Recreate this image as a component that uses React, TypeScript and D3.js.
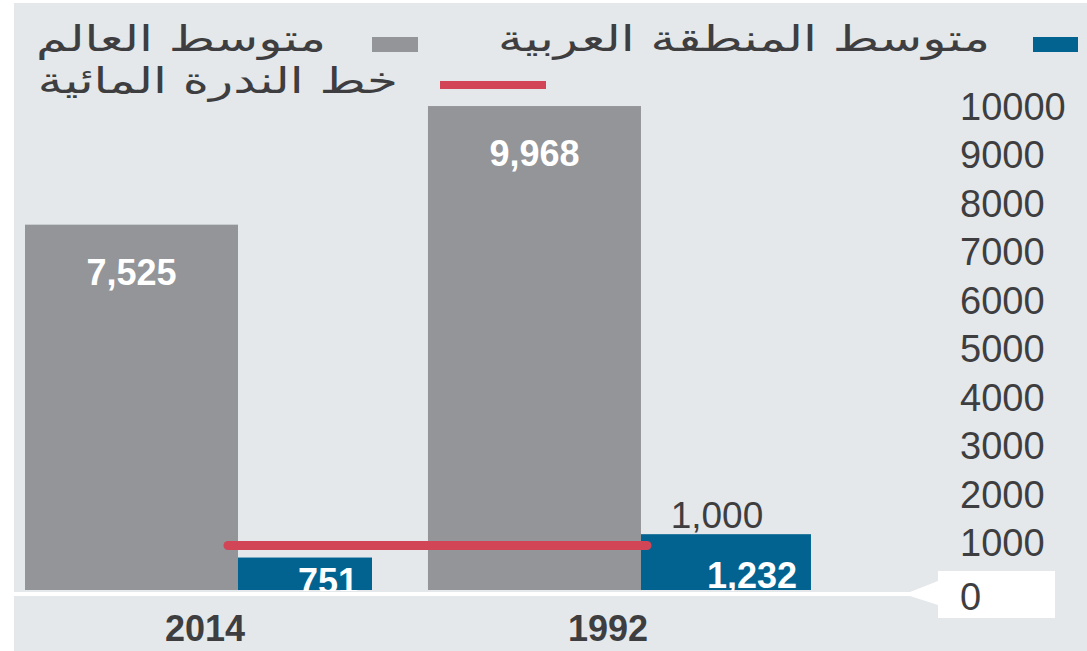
import * as d3 from 'd3';

const categories = ['2014', '1992'];
const worldAvg = [7525, 9968];
const arabAvg = [751, 1232];
const scarcityLine = 1000;
const yTicks = [0, 1000, 2000, 3000, 4000, 5000, 6000, 7000, 8000, 9000, 10000];
const legendLabels = ['متوسط المنطقة العربية', 'متوسط العالم', 'خط الندرة المائية'];

const W = 1087;
const H = 651;
const BG = '#e4e8eb';
const GRAY = '#939598';
const BLUE = '#036390';
const RED = '#d24557';
const TEXT = '#3e3e40';
const grayWidth = 213;
const blueWidth = [134, 170];

const fmt = d3.format(',');

// arabic legend text, stretched wide like the original print
const Arabic = ({ x, y, label }: { x: number; y: number; label: string }) => (
  <text transform={`translate(${x},${y}) scale(1.39,1)`} textAnchor="end" fontSize={36} fill={TEXT}
    fontFamily="'DejaVu Sans', sans-serif">{label}</text>
);

export default function App() {
  const x = d3.scaleBand<string>().domain(categories).range([25, 812]).paddingInner(0.047).paddingOuter(0);
  const y = d3.scaleLinear().domain([0, 10000]).range([590, 104.5]);
  const base = y(0);
  const lineY = y(scarcityLine) + 4;
  const lineX0 = (x('2014') as number) + grayWidth - 10;
  const lineX1 = (x('1992') as number) + grayWidth + 6;

  return (
    <svg width={W} height={H} style={{ position: 'absolute', left: 0, top: 0 }}
      fontFamily="'Liberation Sans', Arial, sans-serif">
      <rect x={0} y={0} width={W} height={H} fill="#fff" />
      <rect x={14} y={3} width={W - 14} height={H - 3} fill={BG} />

      {/* legend */}
      <rect x={1033} y={37} width={45} height={15} fill={BLUE} />
      <Arabic x={990} y={51} label={legendLabels[0]} />
      <rect x={372} y={37} width={46} height={15} fill={GRAY} />
      <Arabic x={326} y={51} label={legendLabels[1]} />
      <rect x={440} y={81} width={106} height={8} fill={RED} />
      <Arabic x={398} y={93} label={legendLabels[2]} />

      {/* bars */}
      {categories.map((c, i) => {
        const x0 = x(c) as number;
        return (
          <g key={c}>
            <rect x={x0} y={y(worldAvg[i])} width={grayWidth} height={base - y(worldAvg[i])} fill={GRAY} />
            <rect x={x0 + grayWidth} y={y(arabAvg[i]) + 4} width={blueWidth[i]} height={base - y(arabAvg[i]) - 4} fill={BLUE} />
            <text x={x0 + grayWidth / 2} y={y(worldAvg[i]) + 60} textAnchor="middle" fontSize={36}
              fontWeight="bold" fill="#fff">{fmt(worldAvg[i])}</text>
            <text x={x0 + grayWidth + blueWidth[i] - 14} y={base + (i === 0 ? 4 : -2)} textAnchor="end" fontSize={36}
              fontWeight="bold" fill="#fff">{fmt(arabAvg[i])}</text>
            <text x={x0 + 180} y={641} textAnchor="middle" fontSize={36}
              fontWeight="bold" fill={TEXT}>{c}</text>
          </g>
        );
      })}

      {/* scarcity line */}
      <line x1={lineX0} x2={lineX1} y1={lineY} y2={lineY} stroke={RED} strokeWidth={9} strokeLinecap="round" />
      <text x={(x('1992') as number) + grayWidth + 76} y={528} textAnchor="middle" fontSize={37} fill={TEXT}>
        {fmt(scarcityLine)}
      </text>

      {/* baseline + zero callout */}
      <rect x={14} y={base + 1} width={W} height={4} fill={BG} />
      <rect x={14} y={base + 2} width={902} height={4} fill="#fff" />
      <path d={`M910,${base + 2} L938,${base - 9} L938,${base + 15} L910,${base + 6} Z`} fill="#fff" />
      <rect x={938} y={571} width={117} height={47} fill="#fff" />

      {/* y axis labels */}
      {yTicks.map((t) => (
        <text key={t} x={960} y={y(t) + 15 + (t === 0 ? 5 : 0)} fontSize={38} fill={TEXT}>{t}</text>
      ))}
    </svg>
  );
}
